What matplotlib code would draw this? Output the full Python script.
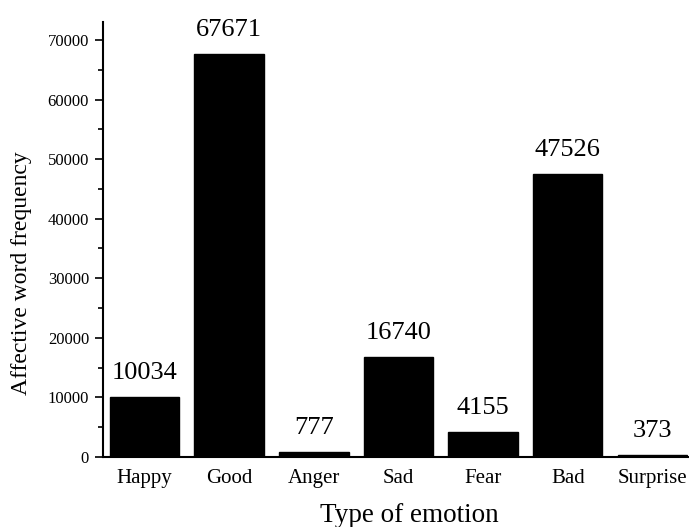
import numpy as np
import matplotlib.pyplot as plt
from matplotlib.ticker import MultipleLocator

# data
emotions = ['Happy', 'Good', 'Anger', 'Sad', 'Fear', 'Bad', 'Surprise']
counts = [10034, 67671, 777, 16740, 4155, 47526, 373]

plt.rcParams['font.family'] = ['Liberation Serif', 'DejaVu Serif']

fig = plt.figure(figsize=(6.89, 5.27), dpi=100)
ax = fig.add_axes([0.1495, 0.133, 0.849, 0.825])

x = np.arange(len(emotions))
bars = ax.bar(x, counts, width=0.82, color='black', edgecolor='black')

# value labels on top of the bars
for rect, v in zip(bars, counts):
    ax.annotate(str(v), (rect.get_x() + rect.get_width() / 2., rect.get_height()),
                xytext=(0, 13), textcoords='offset points',
                ha='center', va='baseline', fontsize=19)

ax.set_xlim(-0.49, 6.42)
ax.set_ylim(0, 73000)
ax.set_xticks(x)
ax.set_xticklabels(emotions, fontsize=15)
ax.yaxis.set_major_locator(MultipleLocator(10000))
ax.yaxis.set_minor_locator(MultipleLocator(5000))
ax.tick_params(axis='y', labelsize=12, direction='out', length=6, width=1.2, pad=4)
ax.tick_params(axis='y', which='minor', direction='out', length=3.5, width=1.2)
ax.tick_params(axis='x', length=0, pad=9)

ax.spines['top'].set_visible(False)
ax.spines['right'].set_visible(False)
ax.spines['left'].set_linewidth(1.5)
ax.spines['bottom'].set_linewidth(1.5)

xl = ax.set_xlabel('Type of emotion', fontsize=19.5)
ax.xaxis.set_label_coords(0.523, -0.149)
xl.set_va('baseline')

yl = ax.set_ylabel('Affective word frequency', fontsize=17)
ax.yaxis.set_label_coords(-0.121, 0.422)

fig.savefig('out.png', dpi=100)
